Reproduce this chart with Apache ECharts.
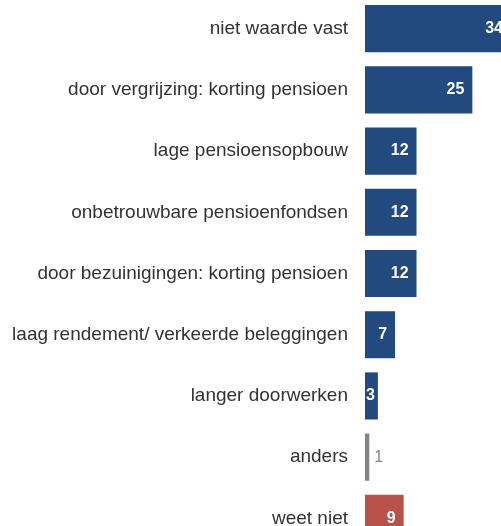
<!DOCTYPE html>
<html>
<head>
<meta charset="utf-8">
<script src="https://cdn.jsdelivr.net/npm/echarts@6/dist/echarts.min.js"></script>
<style>
  html, body { margin: 0; padding: 0; overflow: hidden; background: #fff; }
  body { width: 501px; height: 526px; position: relative; }
  #chart { position: absolute; left: 0; top: -2px; width: 520px; height: 560px; }
</style>
</head>
<body>
<div id="chart"></div>
<script>
  // categorieën en waarden (van boven naar beneden)
  const categories = [
    "niet waarde vast",
    "door vergrijzing: korting pensioen",
    "lage pensioensopbouw",
    "onbetrouwbare pensioenfondsen",
    "door bezuinigingen: korting pensioen",
    "laag rendement/ verkeerde beleggingen",
    "langer doorwerken",
    "anders",
    "weet niet"
  ];
  const values = [34, 25, 12, 12, 12, 7, 3, 1, 9];
  const kinds = ["main", "main", "main", "main", "main", "main", "main", "other", "unknown"];

  const colors = { main: "#224a7e", other: "#858585", unknown: "#b8524a" };

  let chart = echarts.init(document.getElementById("chart"));

  let seriesData = values.map((v, i) => {
    let item = { value: v, itemStyle: { color: colors[kinds[i]] } };
    if (kinds[i] === "other") {
      // te smal: label buiten de balk, grijs
      item.label = { position: "right", distance: 5, color: "#858585", fontWeight: "normal" };
    } else if (v < 5) {
      item.label = { position: "insideLeft", distance: 1 };
    }
    return item;
  });

  let option = {
    animation: false,
    grid: {
      left: 365,
      top: 0,
      width: 146,
      bottom: 9,
      containLabel: false
    },
    xAxis: {
      type: "value",
      min: 0,
      max: 34,
      show: false
    },
    yAxis: {
      type: "category",
      inverse: true,
      data: categories,
      axisLine: { show: false },
      axisTick: { show: false },
      axisLabel: {
        margin: 17,
        fontSize: 19,
        color: "#333",
        fontFamily: "Liberation Sans, Arial, sans-serif"
      }
    },
    series: [
      {
        type: "bar",
        barCategoryGap: "23%",
        data: seriesData,
        label: {
          show: true,
          position: "insideRight",
          distance: 8,
          color: "#fff",
          fontWeight: "bold",
          fontSize: 16,
          fontFamily: "Liberation Sans, Arial, sans-serif"
        }
      }
    ]
  };

  chart.setOption(option);
</script>
</body>
</html>
